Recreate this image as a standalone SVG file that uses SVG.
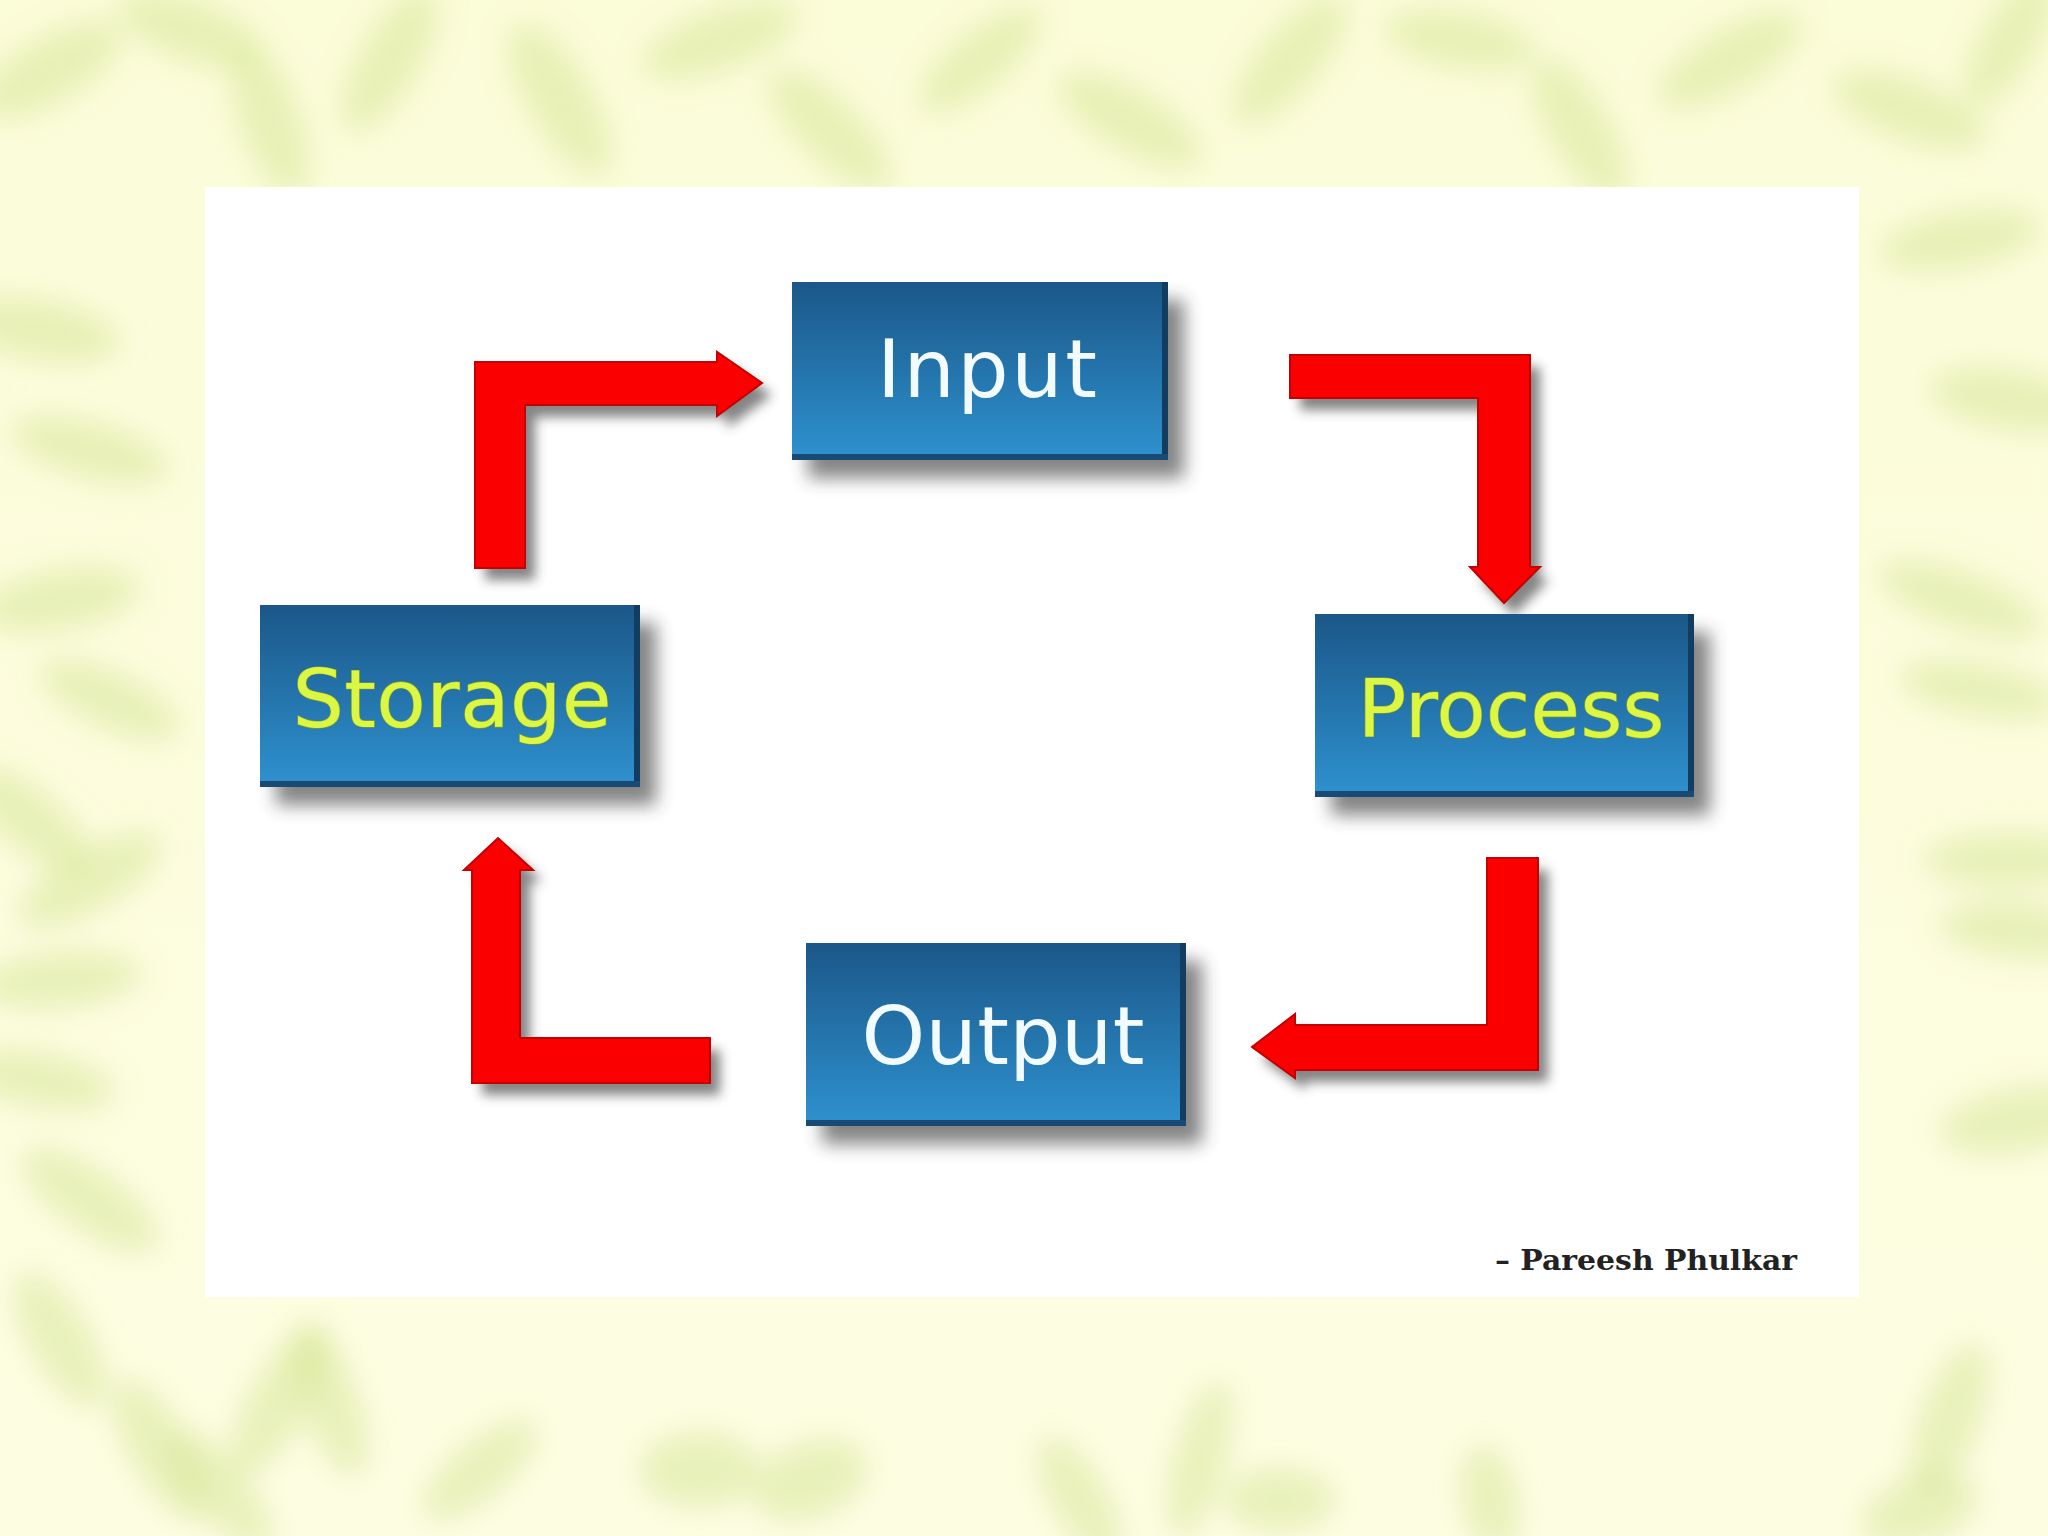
<svg xmlns="http://www.w3.org/2000/svg" width="2048" height="1536" viewBox="0 0 2048 1536">
  <defs>
    <style>
      .leaf { fill: #d6e593; opacity: 0.5; }
      .box { fill: url(#boxGrad); }
      .edgeR { fill: #123c60; }
      .edgeB { fill: #184a74; }
      .lbl { font-family: "DejaVu Sans", Verdana, sans-serif; font-size: 81px; text-anchor: middle; }
      .white { fill: #f2fbff; }
      .lime { fill: #dcf743; stroke: #8da521; stroke-width: 1.2px; paint-order: stroke; }
      .arrow { fill: #fb0000; stroke: #c40000; stroke-width: 2px; stroke-linejoin: miter; }
      .shadow { fill: #333333; opacity: 0.6; }
    </style>
    <linearGradient id="boxGrad" x1="0" y1="0" x2="0" y2="1">
      <stop offset="0" stop-color="#1b5788"/>
      <stop offset="0.55" stop-color="#2577af"/>
      <stop offset="1" stop-color="#2f92cf"/>
    </linearGradient>
    <linearGradient id="bgGrad" x1="0" y1="0" x2="0" y2="1">
      <stop offset="0" stop-color="#fbfcd8"/>
      <stop offset="1" stop-color="#fdfde2"/>
    </linearGradient>
    <filter id="blurLeaf" x="-50%" y="-50%" width="200%" height="200%">
      <feGaussianBlur stdDeviation="14"/>
    </filter>
    <filter id="shBox" x="-20%" y="-30%" width="140%" height="160%">
      <feGaussianBlur stdDeviation="9"/>
    </filter>
    <filter id="shArrow" x="-30%" y="-30%" width="160%" height="160%">
      <feGaussianBlur stdDeviation="6"/>
    </filter>
  </defs>

  <!-- background -->
  <rect x="0" y="0" width="2048" height="1536" fill="url(#bgGrad)"/>
  <g id="leaves" filter="url(#blurLeaf)">
    <ellipse class="leaf" cx="50" cy="70" rx="80" ry="32" transform="rotate(-30 50 70)"/>
    <ellipse class="leaf" cx="190" cy="30" rx="75" ry="30" transform="rotate(20 190 30)"/>
    <ellipse class="leaf" cx="270" cy="120" rx="80" ry="30" transform="rotate(70 270 120)"/>
    <ellipse class="leaf" cx="390" cy="60" rx="80" ry="30" transform="rotate(-60 390 60)"/>
    <ellipse class="leaf" cx="560" cy="100" rx="85" ry="32" transform="rotate(60 560 100)"/>
    <ellipse class="leaf" cx="720" cy="40" rx="80" ry="30" transform="rotate(-20 720 40)"/>
    <ellipse class="leaf" cx="830" cy="130" rx="80" ry="30" transform="rotate(45 830 130)"/>
    <ellipse class="leaf" cx="980" cy="60" rx="75" ry="28" transform="rotate(-40 980 60)"/>
    <ellipse class="leaf" cx="1130" cy="120" rx="80" ry="30" transform="rotate(30 1130 120)"/>
    <ellipse class="leaf" cx="1290" cy="60" rx="80" ry="30" transform="rotate(-50 1290 60)"/>
    <ellipse class="leaf" cx="1460" cy="40" rx="75" ry="28" transform="rotate(10 1460 40)"/>
    <ellipse class="leaf" cx="1580" cy="130" rx="80" ry="30" transform="rotate(60 1580 130)"/>
    <ellipse class="leaf" cx="1730" cy="60" rx="80" ry="30" transform="rotate(-30 1730 60)"/>
    <ellipse class="leaf" cx="1910" cy="110" rx="80" ry="30" transform="rotate(20 1910 110)"/>
    <ellipse class="leaf" cx="2010" cy="40" rx="75" ry="28" transform="rotate(-60 2010 40)"/>
    <ellipse class="leaf" cx="40" cy="330" rx="80" ry="30" transform="rotate(10 40 330)"/>
    <ellipse class="leaf" cx="90" cy="450" rx="80" ry="28" transform="rotate(15 90 450)"/>
    <ellipse class="leaf" cx="60" cy="600" rx="80" ry="30" transform="rotate(-10 60 600)"/>
    <ellipse class="leaf" cx="110" cy="700" rx="75" ry="28" transform="rotate(25 110 700)"/>
    <ellipse class="leaf" cx="30" cy="820" rx="75" ry="30" transform="rotate(40 30 820)"/>
    <ellipse class="leaf" cx="90" cy="880" rx="80" ry="30" transform="rotate(-30 90 880)"/>
    <ellipse class="leaf" cx="60" cy="980" rx="80" ry="28" transform="rotate(-5 60 980)"/>
    <ellipse class="leaf" cx="40" cy="1080" rx="75" ry="28" transform="rotate(10 40 1080)"/>
    <ellipse class="leaf" cx="90" cy="1200" rx="80" ry="30" transform="rotate(35 90 1200)"/>
    <ellipse class="leaf" cx="1960" cy="240" rx="80" ry="28" transform="rotate(-10 1960 240)"/>
    <ellipse class="leaf" cx="2010" cy="400" rx="80" ry="30" transform="rotate(10 2010 400)"/>
    <ellipse class="leaf" cx="1960" cy="600" rx="85" ry="28" transform="rotate(20 1960 600)"/>
    <ellipse class="leaf" cx="1980" cy="690" rx="80" ry="26" transform="rotate(10 1980 690)"/>
    <ellipse class="leaf" cx="2010" cy="860" rx="85" ry="28" transform="rotate(0 2010 860)"/>
    <ellipse class="leaf" cx="2020" cy="930" rx="80" ry="28" transform="rotate(5 2020 930)"/>
    <ellipse class="leaf" cx="2020" cy="1120" rx="80" ry="32" transform="rotate(-10 2020 1120)"/>
    <ellipse class="leaf" cx="60" cy="1340" rx="75" ry="30" transform="rotate(60 60 1340)"/>
    <ellipse class="leaf" cx="160" cy="1450" rx="80" ry="30" transform="rotate(60 160 1450)"/>
    <ellipse class="leaf" cx="280" cy="1400" rx="85" ry="30" transform="rotate(-60 280 1400)"/>
    <ellipse class="leaf" cx="330" cy="1400" rx="80" ry="28" transform="rotate(70 330 1400)"/>
    <ellipse class="leaf" cx="220" cy="1490" rx="75" ry="28" transform="rotate(50 220 1490)"/>
    <ellipse class="leaf" cx="480" cy="1470" rx="70" ry="28" transform="rotate(-40 480 1470)"/>
    <ellipse class="leaf" cx="700" cy="1470" rx="60" ry="38" transform="rotate(0 700 1470)"/>
    <ellipse class="leaf" cx="810" cy="1480" rx="60" ry="38" transform="rotate(-20 810 1480)"/>
    <ellipse class="leaf" cx="1080" cy="1500" rx="70" ry="28" transform="rotate(60 1080 1500)"/>
    <ellipse class="leaf" cx="1200" cy="1460" rx="80" ry="26" transform="rotate(-75 1200 1460)"/>
    <ellipse class="leaf" cx="1280" cy="1500" rx="55" ry="32" transform="rotate(0 1280 1500)"/>
    <ellipse class="leaf" cx="1490" cy="1500" rx="55" ry="28" transform="rotate(80 1490 1500)"/>
    <ellipse class="leaf" cx="1950" cy="1420" rx="80" ry="30" transform="rotate(-70 1950 1420)"/>
    <ellipse class="leaf" cx="1920" cy="1510" rx="60" ry="34" transform="rotate(-20 1920 1510)"/>
  </g>

  <!-- white panel -->
  <rect id="panel" x="205" y="187" width="1654" height="1110" fill="#ffffff"/>

  <!-- connectors -->
  <g id="connectors">
    <g id="arrow-storage-input">
      <path class="shadow" filter="url(#shArrow)" transform="translate(10,12)" d="M475,568 L475,362 L717,362 L717,352 L762,383 L717,416 L717,405 L525,405 L525,568 Z"/>
      <path class="arrow" d="M475,568 L475,362 L717,362 L717,352 L762,383 L717,416 L717,405 L525,405 L525,568 Z"/>
    </g>
    <g id="arrow-input-process">
      <path class="shadow" filter="url(#shArrow)" transform="translate(10,12)" d="M1290,355 L1530,355 L1530,567 L1540,567 L1504,603 L1470,567 L1478,567 L1478,398 L1290,398 Z"/>
      <path class="arrow" d="M1290,355 L1530,355 L1530,567 L1540,567 L1504,603 L1470,567 L1478,567 L1478,398 L1290,398 Z"/>
    </g>
    <g id="arrow-process-output">
      <path class="shadow" filter="url(#shArrow)" transform="translate(10,12)" d="M1487,858 L1538,858 L1538,1070 L1295,1070 L1295,1078 L1252,1047 L1295,1014 L1295,1025 L1487,1025 Z"/>
      <path class="arrow" d="M1487,858 L1538,858 L1538,1070 L1295,1070 L1295,1078 L1252,1047 L1295,1014 L1295,1025 L1487,1025 Z"/>
    </g>
    <g id="arrow-output-storage">
      <path class="shadow" filter="url(#shArrow)" transform="translate(10,12)" d="M710,1038 L710,1083 L472,1083 L472,870 L464,870 L498,838 L533,870 L520,870 L520,1038 Z"/>
      <path class="arrow" d="M710,1038 L710,1083 L472,1083 L472,870 L464,870 L498,838 L533,870 L520,870 L520,1038 Z"/>
    </g>
  </g>

  <!-- nodes -->
  <g id="node-input">
    <rect class="shadow" filter="url(#shBox)" x="808" y="300" width="376" height="178"/>
    <rect class="box" x="792" y="282" width="376" height="178"/>
    <rect class="edgeR" x="1162" y="282" width="6" height="178"/>
    <rect class="edgeB" x="792" y="454" width="376" height="6"/>
    <text class="lbl white" x="987" y="397" textLength="220" lengthAdjust="spacing">Input</text>
  </g>
  <g id="node-storage">
    <rect class="shadow" filter="url(#shBox)" x="276" y="623" width="380" height="182"/>
    <rect class="box" x="260" y="605" width="380" height="182"/>
    <rect class="edgeR" x="634" y="605" width="6" height="182"/>
    <rect class="edgeB" x="260" y="781" width="380" height="6"/>
    <text class="lbl lime" x="452" y="727" textLength="319" lengthAdjust="spacing">Storage</text>
  </g>
  <g id="node-process">
    <rect class="shadow" filter="url(#shBox)" x="1331" y="632" width="379" height="183"/>
    <rect class="box" x="1315" y="614" width="379" height="183"/>
    <rect class="edgeR" x="1688" y="614" width="6" height="183"/>
    <rect class="edgeB" x="1315" y="791" width="379" height="6"/>
    <text class="lbl lime" x="1511" y="737" textLength="307" lengthAdjust="spacing">Process</text>
  </g>
  <g id="node-output">
    <rect class="shadow" filter="url(#shBox)" x="822" y="961" width="380" height="183"/>
    <rect class="box" x="806" y="943" width="380" height="183"/>
    <rect class="edgeR" x="1180" y="943" width="6" height="183"/>
    <rect class="edgeB" x="806" y="1120" width="380" height="6"/>
    <text class="lbl white" x="1003" y="1064" textLength="283" lengthAdjust="spacing">Output</text>
  </g>

  <text id="author" x="1495" y="1270" font-family="'DejaVu Serif', 'Liberation Serif', serif" font-weight="bold" font-size="27" fill="#222222" textLength="302" lengthAdjust="spacingAndGlyphs">– Pareesh Phulkar</text>
</svg>
